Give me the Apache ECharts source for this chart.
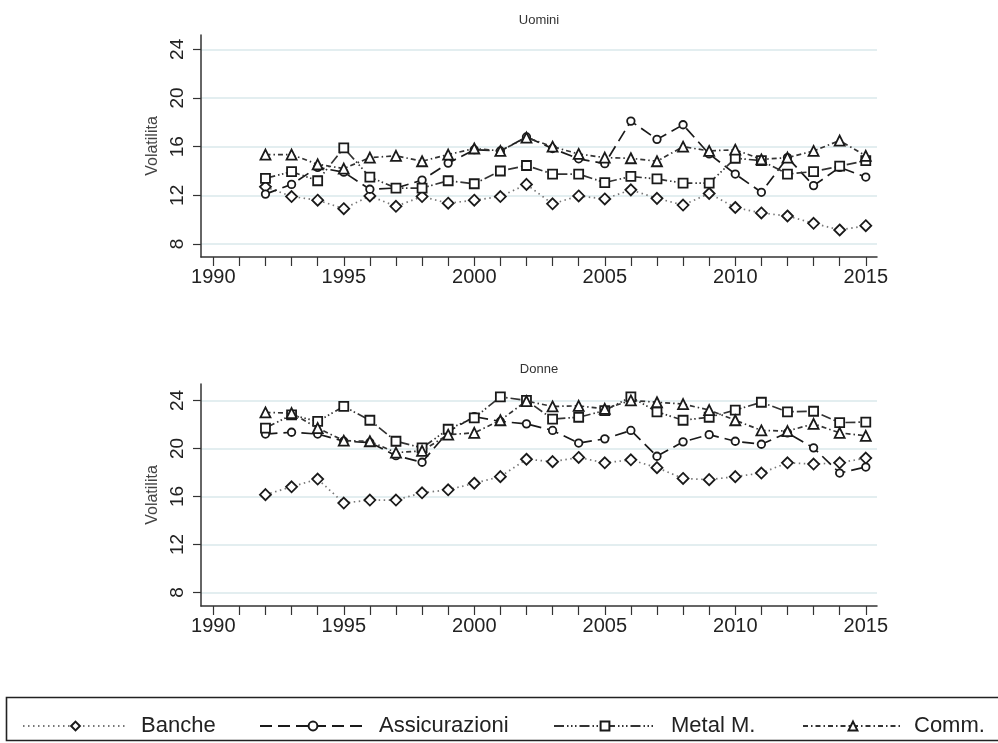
<!DOCTYPE html>
<html>
<head>
<meta charset="utf-8">
<script src="https://cdn.jsdelivr.net/npm/echarts@6/dist/echarts.min.js"></script>
<style>
html,body{margin:0;padding:0;background:#fff;}
#chart{width:998px;height:743px;}
</style>
</head>
<body>
<div id="chart"></div>
<script>
const years = [1992,1993,1994,1995,1996,1997,1998,1999,2000,2001,2002,2003,2004,2005,2006,2007,2008,2009,2010,2011,2012,2013,2014,2015];
const seriesNames = ['Banche','Assicurazioni','Metal M.','Comm.'];
const panelTitles = ['Uomini','Donne'];
const yTicks = [8,12,16,20,24];
const xTicks = [1990,1991,1992,1993,1994,1995,1996,1997,1998,1999,2000,2001,2002,2003,2004,2005,2006,2007,2008,2009,2010,2011,2012,2013,2014,2015];
const xLabels = [1990,1995,2000,2005,2010,2015];

const uominiBanche = [12.7,11.9,11.6,10.9,11.95,11.1,11.9,11.35,11.6,11.9,12.9,11.3,11.95,11.7,12.45,11.75,11.2,12.15,11.0,10.55,10.3,9.7,9.15,9.5];
const uominiAssic  = [12.1,12.9,14.3,13.9,12.5,12.6,13.25,14.65,15.75,15.65,16.8,15.85,15.0,14.6,18.1,16.6,17.8,15.4,13.75,12.25,15.1,12.8,14.3,13.5];
const uominiMetal  = [13.4,13.95,13.2,15.9,13.5,12.6,12.6,13.2,12.95,14.0,14.45,13.75,13.75,13.05,13.55,13.35,13.0,13.0,15.05,14.85,13.75,13.95,14.4,14.85];
const uominiComm   = [15.35,15.35,14.55,14.2,15.1,15.25,14.8,15.35,15.85,15.65,16.75,16.0,15.4,15.1,15.05,14.8,16.0,15.65,15.75,14.95,15.1,15.65,16.5,15.25];

const donneBanche = [16.15,16.8,17.45,15.45,15.7,15.7,16.3,16.55,17.1,17.65,19.1,18.9,19.25,18.8,19.05,18.4,17.5,17.4,17.65,17.95,18.8,18.7,18.8,19.2];
const donneAssic  = [21.2,21.35,21.2,20.6,20.5,19.4,18.85,21.4,22.65,22.25,22.05,21.5,20.45,20.8,21.5,19.35,20.55,21.15,20.6,20.35,21.3,20.05,17.95,18.45];
const donneMetal  = [21.7,22.8,22.25,23.5,22.35,20.6,20.05,21.6,22.55,24.3,24.0,22.45,22.6,23.15,24.3,23.05,22.35,22.6,23.2,23.85,23.05,23.1,22.15,22.2];
const donneComm   = [23.0,22.95,21.7,20.65,20.6,19.65,19.8,21.15,21.3,22.35,23.95,23.5,23.55,23.3,24.0,23.85,23.7,23.2,22.35,21.5,21.45,22.05,21.3,21.05];

const panels = [
  [uominiBanche, uominiAssic, uominiMetal, uominiComm],
  [donneBanche, donneAssic, donneMetal, donneComm]
];

const styles = [
  {symbol:'diamond', symbolSize:11, line:{color:'#777', width:1.7, type:[1.5,3.5]}},
  {symbol:'circle', symbolSize:7.5, line:{color:'#1a1a1a', width:1.7, type:[12,6]}},
  {symbol:'rect', symbolSize:9, line:{color:'#333', width:1.7, type:[10,3,1.5,2.5,1.5,2.5,1.5,3]}},
  {symbol:'triangle', symbolSize:10, line:{color:'#333', width:1.7, type:[5,3,1.5,3]}}
];

const gridTops = [35, 384];
const yRanges = [[6.93,25.18],[6.87,25.37]];

const chart = echarts.init(document.getElementById('chart'), null, {renderer:'canvas'});

const font = 'Liberation Sans, Arial, sans-serif';
const grids = gridTops.map(t => ({left:201, top:t, width:676, height:222, containLabel:false}));
const xAxes = gridTops.map((t,i) => ({
  type:'value', gridIndex:i, min:1989.53, max:2015.43,
  axisLine:{show:true, lineStyle:{color:'#333', width:1.5}},
  axisTick:{show:true, length:9, customValues:xTicks, lineStyle:{color:'#333', width:1.2}},
  axisLabel:{customValues:xLabels, formatter:v=>String(v), fontSize:20, color:'#222', fontFamily:font, margin:10},
  splitLine:{show:false}
}));
const yAxes = gridTops.map((t,i) => ({
  type:'value', gridIndex:i, min:yRanges[i][0], max:yRanges[i][1],
  name:'Volatilita', nameLocation:'middle', nameGap:40,
  nameTextStyle:{fontSize:16, color:'#444', fontFamily:font},
  axisLine:{show:true, lineStyle:{color:'#333', width:1.5}},
  axisTick:{show:true, length:8, customValues:yTicks, lineStyle:{color:'#333', width:1.2}},
  axisLabel:{customValues:yTicks, rotate:90, fontSize:19, color:'#222', fontFamily:font, margin:14},
  splitLine:{show:true, lineStyle:{color:'#e3eef0', width:2}}
}));

const series = [];
panels.forEach((vals, p) => {
  vals.forEach((arr, s) => {
    const st = styles[s];
    series.push({
      name: seriesNames[s], type:'line', xAxisIndex:p, yAxisIndex:p,
      data: years.map((y,k)=>[y, arr[k]]),
      symbol: st.symbol, symbolSize: st.symbolSize, showAllSymbol:true,
      lineStyle: Object.assign({cap:'butt'}, st.line),
      itemStyle:{color:'#fff', borderColor:'#1a1a1a', borderWidth:1.8},
      emphasis:{disabled:true}, animation:false, z: 2 + s
    });
  });
});

const legendLefts = [17, 254, 548, 797];
const legendWidths = [105, 106, 102, 100];
const legendPads = [8, 8, 10, 6];
const legends = seriesNames.map((n,i) => ({
  data:[n], left: legendLefts[i], top: 710, itemWidth: legendWidths[i], itemHeight: 11, orient:'horizontal',
  textStyle:{fontSize:22, color:'#222', fontFamily:font, padding:[0,0,0,legendPads[i]]},
  selectedMode:false
}));

chart.setOption({
  animation:false,
  backgroundColor:'#fff',
  title: panelTitles.map((t,i)=>({text:t, left:539, top: i===0 ? 14 : 363, textAlign:'center', padding:0,
    textStyle:{fontSize:13, fontWeight:'normal', color:'#333', fontFamily:font}})),
  grid: grids, xAxis: xAxes, yAxis: yAxes, series: series, legend: legends,
  graphic:[{type:'rect', shape:{x:6.5, y:697.5, width:1010, height:43}, style:{fill:'none', stroke:'#222', lineWidth:1.6}, silent:true}]
});
</script>
</body>
</html>
